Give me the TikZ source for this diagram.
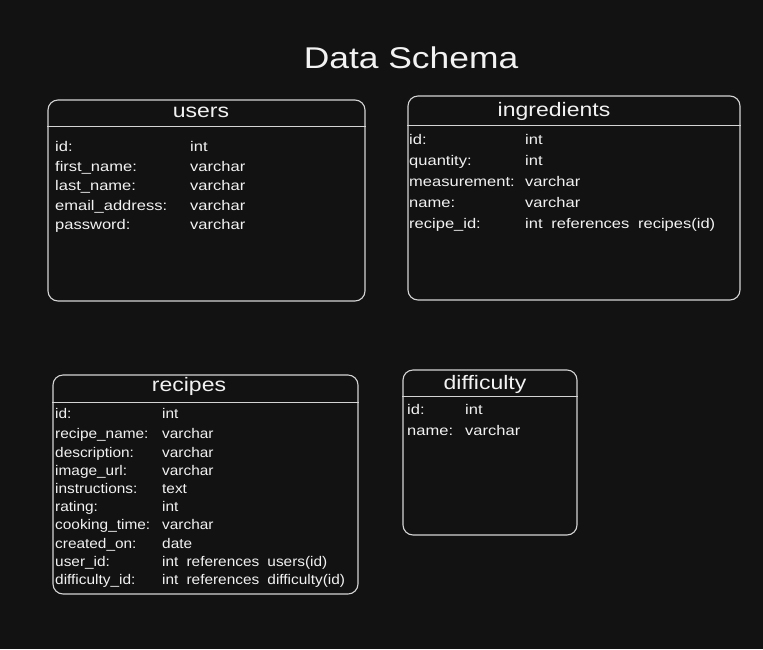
\documentclass[tikz,border=0pt]{standalone}
\usepackage{fontspec}
\setmainfont{Liberation Sans}[FakeStretch=1.18, WordSpace=1.9]
\newfontfamily\titlefont{Liberation Sans}[FakeStretch=1.18]
\newfontfamily\narrowfont{Liberation Sans}[FakeStretch=1.1, WordSpace=1.9]
\definecolor{bg}{HTML}{121212}
\definecolor{ln}{HTML}{D4D4D4}
\definecolor{tx}{HTML}{F2F2F2}
\tikzset{
  tbl/.style={draw=ln, line width=1.1pt, rounded corners=10pt, inner sep=0pt},
  hdr/.style={draw=ln, line width=1.1pt},
  ttl/.style={text=tx, font=\titlefont\fontsize{19.5}{22}\selectfont, inner sep=0pt, anchor=base},
  fld/.style={text=tx, font=\fontsize{14}{16}\selectfont, anchor=base west, inner sep=0pt},
  nfld/.style={fld, font=\narrowfont\fontsize{14}{16}\selectfont},
  big/.style={text=tx, font=\titlefont\fontsize{30}{34}\selectfont, inner sep=0pt, anchor=base}
}
\begin{document}
\begin{tikzpicture}[x=1pt,y=-1pt]
\fill[bg] (0,0) rectangle (763,649);
\useasboundingbox (0,0) rectangle (763,649);
\node[big] (title) at (411,68) {Data Schema};
% users
\node[tbl, minimum width=317pt, minimum height=201pt] (users) at (206.5,200.5) {};
\draw[hdr] ([yshift=-27pt]users.north west) -- ([yshift=-27pt]users.north east);
\node[ttl] (usersT) at (201,117) {users};
\node[fld] (u1) at (55,151) {id:};
\node[fld] (u2) at (55,171) {first\_name:};
\node[fld] (u3) at (55,190) {last\_name:};
\node[fld] (u4) at (55,210) {email\_address:};
\node[fld] (u5) at (55,229) {password:};
\node[fld] (u1t) at (190,151) {int};
\node[fld] (u2t) at (190,171) {varchar};
\node[fld] (u3t) at (190,190) {varchar};
\node[fld] (u4t) at (190,210) {varchar};
\node[fld] (u5t) at (190,229) {varchar};
% ingredients
\node[tbl, minimum width=332pt, minimum height=204pt] (ingr) at (574,198) {};
\draw[hdr] ([yshift=-30pt]ingr.north west) -- ([yshift=-30pt]ingr.north east);
\node[ttl] (ingrT) at (554,116) {ingredients};
\node[fld] (i1) at (409,144) {id:};
\node[fld] (i2) at (409,165) {quantity:};
\node[fld] (i3) at (409,186) {measurement:};
\node[fld] (i4) at (409,207) {name:};
\node[fld] (i5) at (409,228) {recipe\_id:};
\node[fld] (i1t) at (525,144) {int};
\node[fld] (i2t) at (525,165) {int};
\node[fld] (i3t) at (525,186) {varchar};
\node[fld] (i4t) at (525,207) {varchar};
\node[fld] (i5t) at (525,228) {int references recipes(id)};
% recipes
\node[tbl, minimum width=305pt, minimum height=219pt] (rec) at (205.5,484.5) {};
\draw[hdr] ([yshift=-28pt]rec.north west) -- ([yshift=-28pt]rec.north east);
\node[ttl] (recT) at (189,391) {recipes};
\node[nfld] (r1) at (55,418) {id:};
\node[nfld] (r2) at (55,438) {recipe\_name:};
\node[nfld] (r3) at (55,457) {description:};
\node[nfld] (r4) at (55,475) {image\_url:};
\node[nfld] (r5) at (55,493) {instructions:};
\node[nfld] (r6) at (55,511) {rating:};
\node[nfld] (r7) at (55,529) {cooking\_time:};
\node[nfld] (r8) at (55,548) {created\_on:};
\node[nfld] (r9) at (55,566) {user\_id:};
\node[nfld] (r10) at (55,584) {difficulty\_id:};
\node[nfld] (r1t) at (162,418) {int};
\node[nfld] (r2t) at (162,438) {varchar};
\node[nfld] (r3t) at (162,457) {varchar};
\node[nfld] (r4t) at (162,475) {varchar};
\node[nfld] (r5t) at (162,493) {text};
\node[nfld] (r6t) at (162,511) {int};
\node[nfld] (r7t) at (162,529) {varchar};
\node[nfld] (r8t) at (162,548) {date};
\node[nfld] (r9t) at (162,566) {int references users(id)};
\node[nfld] (r10t) at (162,584) {int references difficulty(id)};
% difficulty
\node[tbl, minimum width=174pt, minimum height=165pt] (diff) at (490,452.5) {};
\draw[hdr] ([yshift=-27pt]diff.north west) -- ([yshift=-27pt]diff.north east);
\node[ttl] (diffT) at (485,389) {difficulty};
\node[fld] (d1) at (407,414) {id:};
\node[fld] (d2) at (407,435) {name:};
\node[fld] (d1t) at (465,414) {int};
\node[fld] (d2t) at (465,435) {varchar};
\end{tikzpicture}
\end{document}
